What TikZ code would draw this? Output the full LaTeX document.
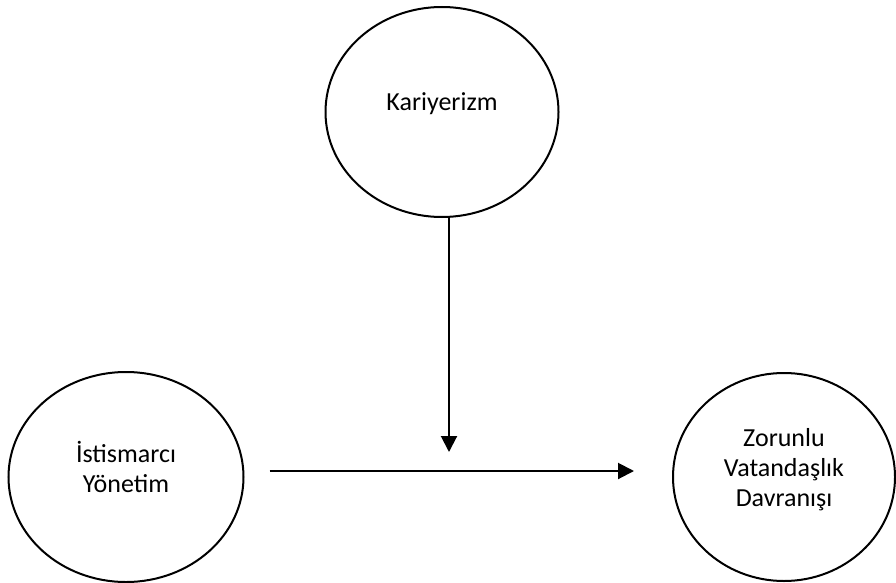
\documentclass[tikz,border=0pt]{standalone}
\usepackage{fontspec}
\setmainfont{Carlito}
\usetikzlibrary{shapes.geometric,arrows.meta}

\begin{document}
\begin{tikzpicture}[x=1pt,y=-1pt,
    oval/.style={draw, ellipse, line width=2pt, inner sep=0pt, align=center,
      font=\fontsize{26}{30}\selectfont, text depth=20pt},
    okline/.style={line width=2pt, -{Triangle[length=16pt,width=16pt]}}]
    \useasboundingbox (0,0) rectangle (896,583);

    % Değişkenler
    \node[oval, minimum width=233pt, minimum height=210pt] (kar) at (442,112) {Kariyerizm};
    \node[oval, minimum width=235pt, minimum height=210pt] (ist) at (126,477) {İstismarcı\\Yönetim};
    \node[oval, minimum width=222pt, minimum height=208pt] (zor) at (784,477) {Zorunlu\\Vatandaşlık\\Davranışı};

    % Oklar
    \coordinate (ucv) at (449,452);
    \draw[okline] (kar.south -| ucv) -- (ucv);
    \draw[okline, shorten <=25pt, shorten >=38pt] ([yshift=6pt]ist.east) -- ([yshift=6pt]zor.west);
\end{tikzpicture}
\end{document}
